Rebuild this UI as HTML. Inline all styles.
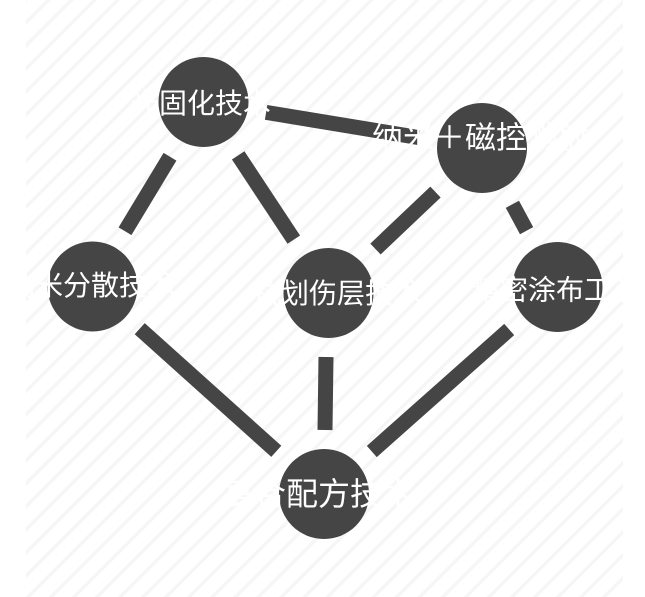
<!DOCTYPE html>
<html>
<head>
<meta charset="utf-8">
<style>
  html, body { margin: 0; padding: 0; background: #ffffff; width: 645px; height: 597px; overflow: hidden; }
  svg { display: block; }
  text { font-family: "Liberation Sans", "Noto Sans CJK SC", sans-serif; fill: #ffffff; }
</style>
</head>
<body>
<svg width="645" height="597" viewBox="0 0 645 597" xmlns="http://www.w3.org/2000/svg">
  <defs>
    <pattern id="stripes" width="16.3" height="16.3" patternUnits="userSpaceOnUse" patternTransform="rotate(45)">
      <rect x="0" y="0" width="3.5" height="16.3" fill="#f6f6f6"/>
    </pattern>
  </defs>
  <rect x="0" y="0" width="645" height="597" fill="#ffffff"/>
  <rect x="26" y="0" width="597" height="597" fill="url(#stripes)"/>

  <g stroke="#454545" stroke-width="15" stroke-linecap="butt">
    <line x1="266.1" y1="112.4" x2="418.9" y2="137.6"/>
    <line x1="170" y1="156.8" x2="125" y2="231.2"/>
    <line x1="238.2" y1="155.4" x2="293.8" y2="239.6"/>
    <line x1="435.5" y1="192" x2="375.5" y2="249"/>
    <line x1="512.4" y1="204.3" x2="526.6" y2="230.7"/>
    <line x1="139.7" y1="328.7" x2="276.3" y2="451.3"/>
    <line x1="326" y1="357" x2="325" y2="430"/>
    <line x1="509.2" y1="329.5" x2="371.8" y2="451.5"/>
  </g>

  <g fill="#454545">
    <circle cx="203.5" cy="102" r="45"/>
    <circle cx="482" cy="148" r="45"/>
    <circle cx="92.5" cy="286.5" r="45"/>
    <circle cx="328.5" cy="293" r="45"/>
    <circle cx="557.5" cy="287" r="45"/>
    <circle cx="324" cy="494" r="45"/>
  </g>

  <text x="131" y="112.8" font-size="28">光固化技术</text>
  <text x="372" y="148.3" font-size="31">纳米＋磁控溅射</text>
  <text x="7" y="294.8" font-size="28">纳米分散技术</text>
  <text x="253" y="302.8" font-size="28">抗划伤层技术</text>
  <text x="472" y="299.3" font-size="28">精密涂布工艺</text>
  <text x="222" y="504.8" font-size="32">复合配方技术</text>
</svg>
</body>
</html>
